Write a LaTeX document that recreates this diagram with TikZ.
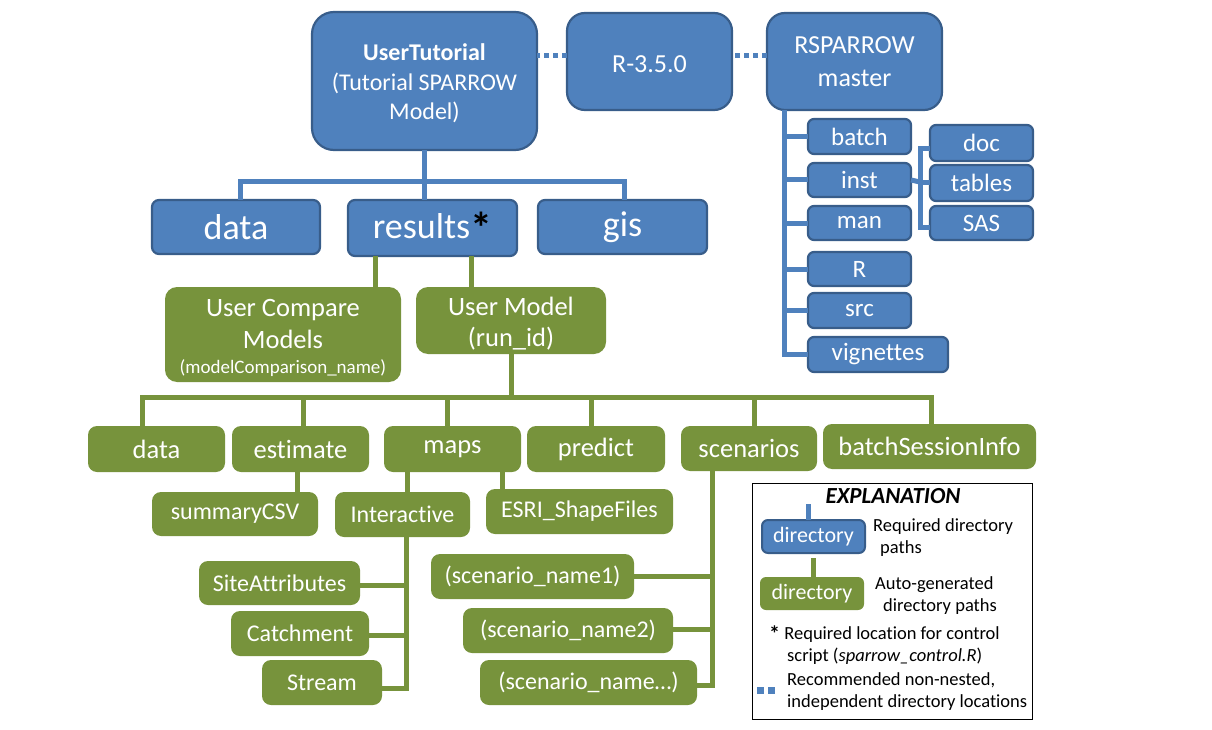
\documentclass[tikz,border=0pt]{standalone}
\usepackage{fontspec}
\setmainfont[Ligatures=NoCommon]{Carlito}
\definecolor{blueF}{HTML}{4F81BD}
\definecolor{blueD}{HTML}{385D8A}
\definecolor{greenF}{HTML}{77933C}
\newcommand{\bx}[7]{\node[#6, minimum width={(#4-#2)*1pt}, minimum height={(#5-#3)*1pt}] (#1) at ({(#2+#4)/2},{(#3+#5)/2}) {#7};}
\newcommand{\fs}[1]{\fontsize{#1}{#1}\selectfont}
\begin{document}
\begin{tikzpicture}[x=1pt,y=-1pt,
  base/.style={inner sep=0pt, outer sep=0pt, text=white, align=center},
  bbox/.style={base, fill=blueF, draw=blueD, line width=2.2pt, rounded corners=7pt},
  gbox/.style={base, fill=greenF, rounded corners=9pt},
  bline/.style={draw=blueF, line width=5pt},
  gline/.style={draw=greenF, line width=5pt},
  dotline/.style={draw=blueF, line width=5pt, dash pattern=on 5pt off 4pt},
  legtxt/.style={anchor=west, inner sep=0pt, font=\fs{18.5}}]
\useasboundingbox (0,0) rectangle (1212,730);
% ---------- blue (required) ----------
\bx{ut}{312}{12}{537}{150}{bbox, rounded corners=22pt, font=\fontsize{24}{29.5}\selectfont}{\rule{0pt}{22pt}\textbf{UserTutorial}\\(Tutorial SPARROW\\Model)}
\bx{r}{567}{13}{732}{110}{bbox, rounded corners=18pt, font=\fs{26}}{\rule{0pt}{22pt}R-3.5.0}
\bx{rs}{767}{13}{942}{110}{bbox, rounded corners=18pt, font=\fontsize{26}{33}\selectfont}{RSPARROW\\master}
\bx{dataB}{152}{200}{320}{254}{bbox, font=\fs{36}}{data}
\bx{resB}{348}{200}{517}{256}{bbox, font=\fs{36}}{results{\color{black}\raisebox{-5pt}{\fontsize{44}{44}\selectfont\bfseries*}}}
\bx{gisB}{538}{200}{707}{254}{bbox, font=\fs{36}}{gis}
\bx{batch}{808}{119}{911}{154}{bbox, rounded corners=6pt, font=\fs{25}}{batch}
\bx{inst}{808}{163}{911}{197}{bbox, rounded corners=6pt, font=\fs{25}}{inst}
\bx{man}{808}{206}{911}{240}{bbox, rounded corners=6pt, font=\fs{25}}{man}
\bx{Rdir}{808}{252}{911}{286}{bbox, rounded corners=6pt, font=\fs{25}}{R}
\bx{src}{808}{293}{911}{328}{bbox, rounded corners=6pt, font=\fs{25}}{src}
\bx{vig}{808}{337}{948}{372}{bbox, rounded corners=6pt, font=\fs{25}}{vignettes}
\bx{doc}{930}{125}{1033}{161}{bbox, rounded corners=6pt, font=\fs{25}}{doc}
\bx{tables}{930}{165}{1033}{201}{bbox, rounded corners=6pt, font=\fs{25}}{tables}
\bx{sas}{930}{206}{1033}{240}{bbox, rounded corners=6pt, font=\fs{25}}{SAS}
% dotted links
\draw[dotline] ([yshift=6pt]r.west) -- ([yshift=6pt]r.west -| ut.east);
\draw[dotline] ([yshift=6pt]rs.west) -- ([yshift=6pt]rs.west -| r.east);
% blue connectors
\draw[bline] (ut.south) -- (ut.south |- resB.north);
\draw[bline] ([xshift=4pt]dataB.north) -- ++(0,-18) -| ([xshift=1.5pt]gisB.north);
\coordinate (tr) at ([xshift=17pt]rs.south west);
\draw[bline] (tr) |- (vig.west);
\foreach \n in {batch,inst,man,Rdir,src} \draw[bline] (\n.west) -- (\n.west -| tr);
\coordinate (br) at (920,182);
\draw[bline] (inst.east) -- (br);
\draw[bline] ([yshift=-6pt]doc.west) -| (br) |- ([yshift=-4pt]sas.west);
\draw[bline] (tables.west) -- (tables.west -| br);
% ---------- green (auto-generated) ----------
\bx{ucm}{165}{287}{401}{382}{gbox, rounded corners=12pt, font=\fontsize{26.5}{32}\selectfont}{\rule{0pt}{24pt}User Compare\\Models\\[-7pt]{\fontsize{19}{19}\selectfont(modelComparison\_name)}}
\bx{um}{416}{287}{606}{354}{gbox, rounded corners=12pt, font=\fontsize{26.5}{31}\selectfont}{\rule{0pt}{24pt}User Model\\(run\_id)}
\draw[gline] ([xshift=-57.5pt]resB.south) -- ([xshift=-57.5pt]resB.south |- ucm.north);
\draw[gline] ([xshift=38.5pt]resB.south) -- ([xshift=38.5pt]resB.south |- um.north);
\bx{gdata}{88}{426}{225}{472}{gbox, font=\fs{26.5}}{data}
\bx{est}{232}{426}{369}{472}{gbox, font=\fs{26.5}}{estimate}
\bx{maps}{384}{426}{521}{472}{gbox, font=\fs{26.5}}{maps}
\bx{pred}{527}{426}{665}{472}{gbox, font=\fs{26.5}}{predict}
\bx{scen}{681}{426}{817}{471}{gbox, font=\fs{26.5}}{scenarios}
\bx{bsi}{823}{424}{1036}{469}{gbox, font=\fs{26.5}}{batchSessionInfo}
\coordinate (gbus) at (513,397);
\draw[gline] (um.south) -- (um.south |- gbus);
\draw[gline] ([xshift=-14.5pt]gdata.north) |- (gbus) -| ([xshift=1.5pt]bsi.north);
\draw[gline] ([xshift=2.5pt]est.north) -- ([xshift=2.5pt]est.north |- gbus);
\draw[gline] ([xshift=-5.5pt]maps.north) -- ([xshift=-5.5pt]maps.north |- gbus);
\draw[gline] ([xshift=-5pt]pred.north) -- ([xshift=-5pt]pred.north |- gbus);
\draw[gline] ([xshift=5pt]scen.north) -- ([xshift=5pt]scen.north |- gbus);
\bx{summ}{152}{492}{318}{536}{gbox, font=\fs{24}}{summaryCSV}
\bx{inter}{335}{492}{470}{537}{gbox, font=\fs{24}}{Interactive}
\bx{esri}{486}{489}{673}{534}{gbox, font=\fs{24}}{ESRI\_ShapeFiles}
\draw[gline] ([xshift=-3.5pt]est.south) -- ([xshift=-3.5pt]est.south |- summ.north);
\draw[gline] ([xshift=-45.5pt]maps.south) -- ([xshift=-45.5pt]maps.south |- inter.north);
\draw[gline] ([xshift=49.5pt]maps.south) -- ([xshift=49.5pt]maps.south |- esri.north);
\bx{site}{199}{561}{360}{605}{gbox, font=\fs{24}}{SiteAttributes}
\bx{catch}{231}{611}{369}{656}{gbox, font=\fs{24}}{Catchment}
\bx{stream}{262}{660}{382}{705}{gbox, font=\fs{24}}{Stream}
\coordinate (itr) at ([xshift=3.5pt]inter.south);
\draw[gline] (itr) |- ([yshift=-6pt]stream.east);
\draw[gline] ([yshift=-2pt]site.east) -- ([yshift=-2pt]site.east -| itr);
\draw[gline] ([yshift=-1.5pt]catch.east) -- ([yshift=-1.5pt]catch.east -| itr);
\bx{sc1}{431}{554}{634}{599}{gbox, font=\fs{24}}{(scenario\_name1)}
\bx{sc2}{463}{608}{673}{653}{gbox, font=\fs{24}}{(scenario\_name2)}
\bx{sc3}{480}{660}{697}{705}{gbox, font=\fs{24}}{(scenario\_name\ldots)}
\coordinate (str) at ([xshift=-37pt]scen.south);
\draw[gline] (str) |- ([yshift=-2.5pt]sc3.east);
\draw[gline] (sc1.east) -- (sc1.east -| str);
\draw[gline] ([yshift=1.5pt]sc2.east) -- ([yshift=1.5pt]sc2.east -| str);
% ---------- legend ----------
\bx{leg}{752}{483}{1032}{719}{draw=black, line width=1pt, inner sep=0pt}{}
\node[inner sep=0pt, font=\fs{23}\bfseries\itshape] (legtitle) at (893,496) {EXPLANATION};
\bx{lb}{762}{520}{865}{553}{bbox, rounded corners=6pt, line width=2pt, font=\fs{22}}{directory}
\bx{lg}{760}{577}{864}{610}{gbox, rounded corners=6pt, font=\fs{22}}{directory}
\coordinate (lbs) at (808,504);
\draw[bline] (lbs) -- (lbs |- lb.north);
\coordinate (lgs) at (813,558);
\draw[gline] (lgs) -- (lgs |- lg.north);
\node[legtxt] (t1) at (873,527) {Required directory};
\node[legtxt] (t2) at (880,549) {paths};
\node[legtxt] (t3) at (875,585) {Auto-generated};
\node[legtxt] (t4) at (883,607) {directory paths};
\node[legtxt] (t5) at (769,634) {\raisebox{-2pt}{\fontsize{22}{22}\selectfont\bfseries*} Required location for control};
\node[legtxt] (t6) at (787,656) {script (\textit{sparrow\_control.R})};
\node[legtxt] (t7) at (787,680) {Recommended non-nested,};
\node[legtxt] (t8) at (787,703) {independent directory locations};
\coordinate (d1) at (757,690);
\coordinate (d2) at (775,690);
\draw[dotline, line width=7pt, dash pattern=on 7pt off 4pt] (d1) -- (d2);
\end{tikzpicture}
\end{document}
